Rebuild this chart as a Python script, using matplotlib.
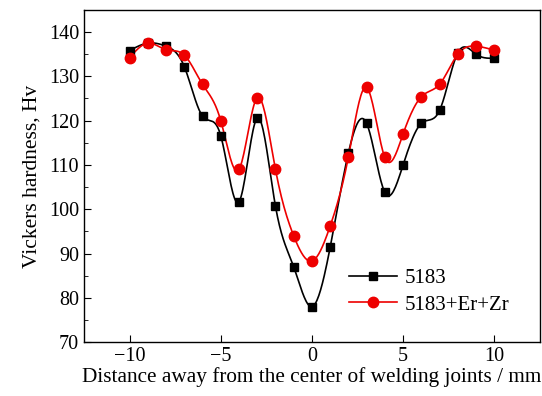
import numpy as np
import matplotlib
matplotlib.use("Agg")
import matplotlib.pyplot as plt
from matplotlib.ticker import MultipleLocator

plt.rcParams['font.family'] = ['Liberation Serif', 'DejaVu Serif']
plt.rcParams['mathtext.fontset'] = 'stix'

distance = [-10, -9, -8, -7, -6, -5, -4, -3, -2, -1, 0, 1, 2, 3, 4, 5, 6, 7, 8, 9, 10]
hv_5183 = [135.8, 137.5, 136.8, 132.2, 121.0, 116.6, 101.7, 120.6, 100.7, 87.0, 78.0,
           91.4, 112.7, 119.4, 103.8, 110.0, 119.4, 122.3, 135.3, 135.0, 134.1]
hv_erzr = [134.2, 137.5, 136.0, 134.8, 128.2, 120.0, 109.0, 125.2, 109.0, 94.0, 88.3,
           96.2, 111.8, 127.5, 111.7, 117.0, 125.4, 128.2, 135.0, 136.8, 135.9]
labels = ['5183', '5183+Er+Zr']
colors = ['black', '#ee0000']


def natural_spline(x, y, n=400):
    x = np.asarray(x, float); y = np.asarray(y, float)
    m = len(x); h = np.diff(x)
    A = np.zeros((m, m)); b = np.zeros(m)
    A[0, 0] = A[-1, -1] = 1
    for i in range(1, m - 1):
        A[i, i - 1] = h[i - 1]; A[i, i] = 2 * (h[i - 1] + h[i]); A[i, i + 1] = h[i]
        b[i] = 3 * ((y[i + 1] - y[i]) / h[i] - (y[i] - y[i - 1]) / h[i - 1])
    c = np.linalg.solve(A, b)
    xs = np.linspace(x[0], x[-1], n)
    idx = np.clip(np.searchsorted(x, xs) - 1, 0, m - 2)
    dx = xs - x[idx]
    bb = (y[idx + 1] - y[idx]) / h[idx] - h[idx] * (2 * c[idx] + c[idx + 1]) / 3
    d = (c[idx + 1] - c[idx]) / (3 * h[idx])
    ys = y[idx] + bb * dx + c[idx] * dx ** 2 + d * dx ** 3
    return xs, ys


fig = plt.figure(figsize=(5.42, 3.96), dpi=100)
ax = fig.add_axes([0.155, 0.136, 0.841, 0.839])

for yv, lab, col, mk, ms in [(hv_5183, labels[0], colors[0], 's', 6),
                             (hv_erzr, labels[1], colors[1], 'o', 7.5)]:
    xs, ys = natural_spline(distance, yv)
    ax.plot(xs, ys, color=col, lw=1.2, zorder=2)
    ax.plot(distance, yv, ls='none', marker=mk, ms=ms, color=col, zorder=3)
    ax.plot([], [], color=col, lw=1.2, marker=mk, ms=ms, label=lab)

ax.set_xlim(-12.5, 12.5)
ax.set_ylim(70, 145)
ax.xaxis.set_major_locator(MultipleLocator(5))
ax.yaxis.set_major_locator(MultipleLocator(10))
ax.yaxis.set_minor_locator(MultipleLocator(5))
ax.tick_params(which='both', direction='in', labelsize=14.5, top=False, right=False)
ax.tick_params(which='major', length=5)
ax.tick_params(which='minor', length=3)
ax.set_xlabel('Distance away from the center of welding joints / mm', fontsize=15.3, labelpad=1)
ax.set_ylabel('Vickers hardness, Hv', fontsize=15.5, labelpad=5)
for s in ax.spines.values():
    s.set_linewidth(1.0)

ax.legend(loc='lower right', bbox_to_anchor=(0.975, 0.026), frameon=False, fontsize=15,
          handlelength=2.3, handletextpad=0.4, labelspacing=0.35)

fig.savefig('out.png', dpi=100)
